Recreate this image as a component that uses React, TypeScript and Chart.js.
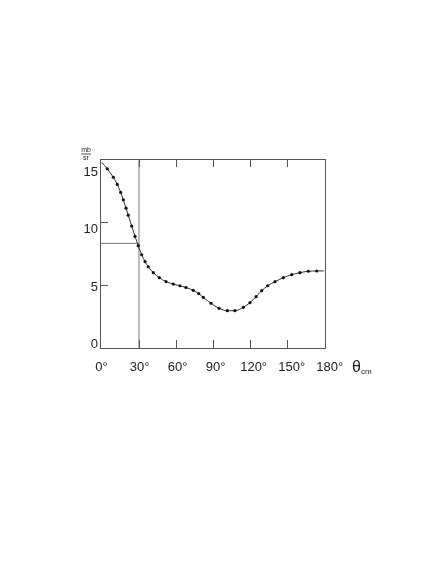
import React, { useEffect, useRef } from 'react';
import { Chart, registerables } from 'chart.js';

Chart.register(...registerables);

// Scattering angle (degrees, c.m.) and differential cross section (mb/sr)
const angles = [0, 4.3, 9.2, 12.4, 15.2, 17.3, 19.5, 21.3, 24.1, 26.8, 29.4, 32.2, 34.9, 37.5, 41.6, 46.5, 51.9, 57.8, 63.2, 68.1, 74.0, 78.4, 82.1, 88.4, 94.9, 101.6, 107.8, 114.6, 120.0, 124.9, 129.5, 134.4, 140.3, 147.0, 153.8, 160.5, 167.3, 174.1, 180];
const crossSection = [14.72, 14.22, 13.55, 12.98, 12.35, 11.76, 11.1, 10.54, 9.68, 8.86, 8.12, 7.4, 6.86, 6.45, 5.98, 5.58, 5.27, 5.07, 4.94, 4.8, 4.58, 4.32, 4.02, 3.55, 3.15, 2.96, 2.96, 3.23, 3.6, 4.07, 4.55, 4.94, 5.26, 5.58, 5.82, 5.98, 6.09, 6.11, 6.12];

// Marker at 30 degrees
const markerAngle = 30;
const markerValue = 8.3;

// Tick labels
const xTickValues = [0, 30, 60, 90, 120, 150, 180];
const yTickValues = [0, 5, 10, 15];

const X_MIN = -1.6;
const X_MAX = 180.8;
const Y_MIN = 0;
const Y_MAX = 15;

const FONT = '"Liberation Sans", Arial, sans-serif';

const framePlugin = {
  id: 'framePlugin',
  afterDatasetsDraw(chart: any) {
    const { ctx, chartArea } = chart;
    const { left, right, top, bottom } = chartArea;
    const xs = chart.scales.x;
    const ys = chart.scales.y;
    ctx.save();
    ctx.strokeStyle = '#555';
    ctx.lineWidth = 1;
    ctx.strokeRect(Math.round(left) + 0.5, Math.round(top) + 0.5, Math.round(right - left), Math.round(bottom - top));
    const tl = 8;
    ctx.beginPath();
    xs.ticks.forEach((t: any) => {
      if (t.value <= 0 || t.value >= 180) return;
      const px = Math.round(xs.getPixelForValue(t.value)) + 0.5;
      ctx.moveTo(px, bottom);
      ctx.lineTo(px, bottom - tl);
      ctx.moveTo(px, top);
      ctx.lineTo(px, top + tl);
    });
    ys.ticks.forEach((t: any) => {
      if (t.value <= Y_MIN || t.value >= Y_MAX) return;
      const py = Math.round(ys.getPixelForValue(t.value)) + 0.5;
      ctx.moveTo(left, py);
      ctx.lineTo(left + tl, py);
    });
    ctx.stroke();
    ctx.restore();
  },
  afterDraw(chart: any) {
    const { ctx, chartArea } = chart;
    const { right, top, bottom, left } = chartArea;
    ctx.save();
    ctx.fillStyle = '#222';
    ctx.strokeStyle = '#222';
    // mb / sr unit fraction
    const cx = left - 14;
    ctx.font = `7px ${FONT}`;
    ctx.textAlign = 'center';
    ctx.textBaseline = 'alphabetic';
    ctx.fillText('mb', cx, top - 7);
    ctx.lineWidth = 0.8;
    ctx.beginPath();
    ctx.moveTo(cx - 5, top - 5);
    ctx.lineTo(cx + 5, top - 5);
    ctx.stroke();
    ctx.fillText('sr', cx, top + 0.5);
    // theta_cm axis title
    ctx.textAlign = 'left';
    ctx.font = `16px ${FONT}`;
    const tx = right + 27;
    const ty = bottom + 24;
    ctx.fillText('\u03B8', tx, ty);
    const w = ctx.measureText('\u03B8').width;
    ctx.font = `8px ${FONT}`;
    ctx.fillText('cm', tx + w, ty + 2);
    ctx.restore();
  },
};

export default function App() {
  const ref = useRef<HTMLCanvasElement | null>(null);

  useEffect(() => {
    if (!ref.current) return;
    const last = angles.length - 1;
    const chart = new Chart(ref.current, {
      type: 'line',
      data: {
        datasets: [
          {
            data: angles.map((a, i) => ({ x: a, y: crossSection[i] })),
            borderColor: '#333',
            borderWidth: 1,
            backgroundColor: '#111',
            pointBackgroundColor: '#111',
            pointBorderWidth: 0,
            pointRadius: (c: any) => (c.dataIndex === 0 || c.dataIndex === last ? 0 : 1.6),
            cubicInterpolationMode: 'monotone',
            xAxisID: 'x',
            yAxisID: 'y',
          },
          {
            data: [
              { x: X_MIN, y: markerValue },
              { x: markerAngle, y: markerValue },
            ],
            borderColor: '#777',
            borderWidth: 1,
            pointRadius: 0,
            xAxisID: 'x',
            yAxisID: 'y',
          },
          {
            data: [
              { x: markerAngle, y: Y_MIN },
              { x: markerAngle, y: Y_MAX },
            ],
            borderColor: '#777',
            borderWidth: 1,
            pointRadius: 0,
            xAxisID: 'x',
            yAxisID: 'y',
          },
        ],
      },
      options: {
        animation: false,
        responsive: false,
        maintainAspectRatio: false,
        layout: { padding: { left: 70, right: 111, top: 159, bottom: 186 } },
        plugins: { legend: { display: false }, tooltip: { enabled: false } },
        scales: {
          x: {
            type: 'linear',
            display: false,
            min: X_MIN,
            max: X_MAX,
            ticks: { stepSize: 30, includeBounds: false },
          },
          y: {
            type: 'linear',
            display: false,
            min: Y_MIN,
            max: Y_MAX,
            ticks: { stepSize: 5, includeBounds: false },
          },
          xl: {
            type: 'linear',
            position: 'bottom',
            min: -1.18,
            max: 176.3,
            grid: { display: false, drawTicks: false },
            border: { display: false },
            afterBuildTicks: (s: any) => {
              s.ticks = xTickValues.map((v) => ({ value: v }));
            },
            afterFit: (s: any) => {
              s.height = 30;
            },
            ticks: {
              autoSkip: false,
              maxRotation: 0,
              padding: 12,
              color: '#222',
              font: { family: FONT, size: 13 },
              callback: (v: any) => `${v}\u00B0`,
            },
          },
          yl: {
            type: 'linear',
            position: 'left',
            min: -0.305,
            max: 16.18,
            grid: { display: false, drawTicks: false },
            border: { display: false },
            afterBuildTicks: (s: any) => {
              s.ticks = yTickValues.map((v) => ({ value: v }));
            },
            afterFit: (s: any) => {
              s.width = 30;
            },
            ticks: {
              autoSkip: false,
              padding: 2,
              color: '#222',
              font: { family: FONT, size: 13 },
              callback: (v: any) => `${v}`,
            },
          },
        },
      },
      plugins: [framePlugin],
    } as any);
    return () => chart.destroy();
  }, []);

  return (
    <div style={{ position: 'fixed', left: 0, top: 0, width: 436, height: 564, background: '#fff' }}>
      <canvas ref={ref} width={436} height={564} style={{ width: 436, height: 564, display: 'block' }} />
    </div>
  );
}
